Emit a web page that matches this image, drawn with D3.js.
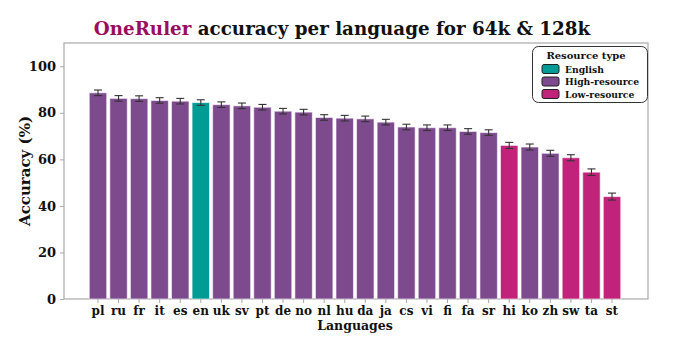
<!DOCTYPE html>
<html><head><meta charset="utf-8">
<script src="https://cdn.jsdelivr.net/npm/d3@7"></script>
<style>body{margin:0;background:#fff}svg{display:block}</style>
</head><body>
<script>
const languages = ["pl","ru","fr","it","es","en","uk","sv","pt","de","no","nl","hu","da","ja","cs","vi","fi","fa","sr","hi","ko","zh","sw","ta","st"];
const accuracy = [88.6,86.2,86.1,85.3,85.0,84.4,83.5,83.0,82.4,80.7,80.3,78.0,77.7,77.4,76.0,73.9,73.6,73.6,72.0,71.5,66.0,65.3,62.6,60.7,54.5,44.0];
const errors =   [1.2,1.2,1.2,1.2,1.2,1.2,1.2,1.2,1.2,1.2,1.2,1.2,1.2,1.2,1.2,1.2,1.2,1.2,1.2,1.2,1.3,1.3,1.3,1.3,1.4,1.5];
const resource = ["High","High","High","High","High","English","High","High","High","High","High","High","High","High","High","High","High","High","High","High","Low","High","High","Low","Low","Low"];
const legendTypes = ["English","High","Low"];
const legendLabels = ["English","High-resource","Low-resource"];
const yTicks = [0,20,40,60,80,100];

const W=673,H=352;
const colors={English:"#009B94",High:"#7D4A8E",Low:"#C2237A"};
const font="'DejaVu Serif', serif";
const svg=d3.select("body").append("svg").attr("width",W).attr("height",H);

const plot={left:64,right:648,top:43,bottom:299};
const x=d3.scaleBand().domain(languages).range([87.7,622.3]).paddingInner(0.2).paddingOuter(0.1);
const y=d3.scaleLinear().domain([0,110]).range([plot.bottom,plot.top]);

// frame
svg.append("rect").attr("x",plot.left).attr("y",plot.top).attr("width",plot.right-plot.left).attr("height",plot.bottom-plot.top)
  .attr("fill","none").attr("stroke","#aaa").attr("stroke-width",1.2);

// bars
const data=languages.map((l,i)=>({l,v:accuracy[i],e:errors[i],r:resource[i]}));
svg.append("g").selectAll("rect").data(data).join("rect")
  .attr("x",d=>x(d.l)-0.5).attr("width",x.bandwidth()+1)
  .attr("y",d=>y(d.v)).attr("height",d=>y(0)-y(d.v))
  .attr("fill",d=>colors[d.r]).attr("stroke","#fff").attr("stroke-opacity",0.6).attr("stroke-width",1);

// error bars
const eg=svg.append("g").attr("stroke","#333").attr("stroke-width",1.1);
data.forEach(d=>{
  const cx=x(d.l)+x.bandwidth()/2;
  eg.append("line").attr("x1",cx).attr("x2",cx).attr("y1",y(d.v+d.e)).attr("y2",y(d.v-d.e));
  eg.append("line").attr("x1",cx-4).attr("x2",cx+4).attr("y1",y(d.v+d.e)).attr("y2",y(d.v+d.e));
  eg.append("line").attr("x1",cx-4).attr("x2",cx+4).attr("y1",y(d.v-d.e)).attr("y2",y(d.v-d.e));
});

// axes
const yAxis=svg.append("g").attr("transform",`translate(${plot.left},0)`)
  .call(d3.axisLeft(y).tickValues(yTicks).tickSize(4).tickPadding(4));
yAxis.select(".domain").remove();
yAxis.selectAll("line").attr("stroke","#aaa");
yAxis.selectAll("text").attr("font-family",font).attr("font-weight","bold").attr("font-size",13).attr("fill","#111");

const xAxis=svg.append("g").attr("transform",`translate(0,${plot.bottom})`)
  .call(d3.axisBottom(x).tickSize(4).tickPadding(3));
xAxis.select(".domain").remove();
xAxis.selectAll("line").attr("stroke","#aaa");
xAxis.selectAll("text").attr("font-family",font).attr("font-weight","bold").attr("font-size",12).attr("fill","#111");

// axis labels
svg.append("text").attr("transform",`translate(30,${(plot.top+plot.bottom)/2}) rotate(-90)`)
  .attr("text-anchor","middle").attr("font-family",font).attr("font-weight","bold").attr("font-size",15).attr("fill","#111")
  .text("Accuracy (%)");
svg.append("text").attr("x",355).attr("y",330).attr("text-anchor","middle")
  .attr("font-family",font).attr("font-weight","bold").attr("font-size",12.5).attr("fill","#111").text("Languages");

// title
const t=svg.append("text").attr("x",342).attr("y",35).attr("text-anchor","middle")
  .attr("font-family",font).attr("font-weight","bold").attr("font-size",18.3).attr("fill","#111");
t.append("tspan").attr("fill","#9C0C5C").text("OneRuler");
t.append("tspan").text(" accuracy per language for 64k & 128k");

// legend
const lg=svg.append("g");
lg.append("rect").attr("x",532.5).attr("y",46.5).attr("width",115).attr("height",56).attr("rx",6)
  .attr("fill","#fff").attr("stroke","#333").attr("stroke-width",1);
lg.append("text").attr("x",586).attr("y",59).attr("text-anchor","middle").attr("font-family",font)
  .attr("font-weight","bold").attr("font-size",10).attr("fill","#111").text("Resource type");
legendTypes.forEach((k,i)=>{
  const yy=69+i*12.5;
  lg.append("rect").attr("x",542).attr("y",yy-4.5).attr("width",17).attr("height",9).attr("rx",2)
    .attr("fill",colors[k]).attr("stroke","#222").attr("stroke-width",1);
  lg.append("text").attr("x",565).attr("y",yy+3.5).attr("font-family",font).attr("font-weight","bold")
    .attr("font-size",9.2).attr("fill","#111").text(legendLabels[i]);
});
</script>
</body></html>
